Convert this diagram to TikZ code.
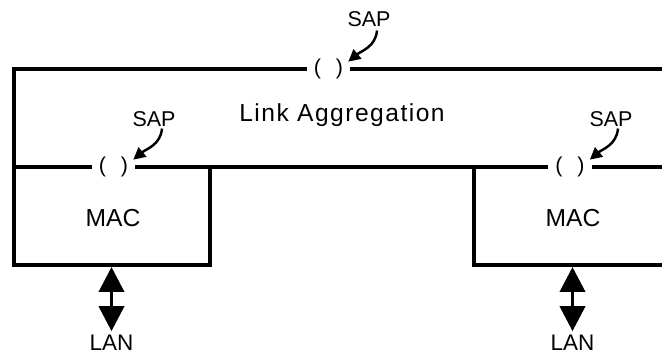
\documentclass[tikz,border=0pt]{standalone}
\usepackage{fontspec}
\setmainfont{Liberation Sans}
\usetikzlibrary{arrows.meta}

\begin{document}
\begin{tikzpicture}[x=0.02cm, y=-0.02cm,
  lbl/.style={font=\fontsize{12.2pt}{14pt}\selectfont, inner sep=0pt, anchor=base},
  lanlbl/.style={font=\fontsize{12.8pt}{15pt}\selectfont, inner sep=0pt, anchor=base},
  big/.style={font=\fontsize{14pt}{16pt}\selectfont, inner sep=0pt, anchor=base},
  sap/.style={font=\fontsize{12.2pt}{14pt}\selectfont, inner sep=0pt, minimum width=0.86cm},
  wire/.style={line width=2.2pt},
  ptr/.style={-{Triangle[length=0.24cm,width=0.24cm]}, line width=1.4pt},
  lan/.style={{Triangle[length=0.5cm,width=0.5cm]}-{Triangle[length=0.5cm,width=0.5cm]}, line width=2.2pt}
]
\useasboundingbox (0,0) rectangle (662,354);

% service access points on the lines
\node[sap] (pTop) at (328.5,69) {(\hspace{0.7em})};
\node[sap] (pL) at (113.5,167) {(\hspace{0.7em})};
\node[sap] (pR) at (570,167) {(\hspace{0.7em})};

% aggregation box and the two MAC boxes
\draw[wire] (662,69) -- (pTop.east);
\draw[wire] (pTop.west) -- (14,69) -- (14,265) -- (210,265) -- (210,167);
\draw[wire] (14,167) -- (pL.west);
\draw[wire] (pL.east) -- (pR.west);
\draw[wire] (pR.east) -- (662,167);
\draw[wire] (474,167) -- (474,265) -- (662,265);

\node[big] (agg) at (342,122) {\addfontfeatures{LetterSpace=6}Link Aggregation};
\node[big] (macL) at (113,227) {MAC};
\node[big] (macR) at (573,227) {MAC};

% SAP labels
\node[lbl] (sapTop) at (369,27) {SAP};
\node[lbl] (sapL) at (154,127) {SAP};
\node[lbl] (sapR) at (611,127) {SAP};
\draw[ptr] ([shift={(8,3)}]sapTop.south) to[out=-95, in=40] ([shift={(-2,3)}]pTop.north east);
\draw[ptr] ([shift={(8,1)}]sapL.south) to[out=-95, in=40] ([shift={(-2,3)}]pL.north east);
\draw[ptr] ([shift={(7,1)}]sapR.south) to[out=-95, in=40] ([shift={(-2,3)}]pR.north east);

% LAN attachments
\coordinate (busL) at (111.5,267);
\coordinate (busR) at (572.5,267);
\node[lanlbl] (lanL) at (111.5,350) {LAN};
\node[lanlbl] (lanR) at (572.5,350) {LAN};
\draw[lan] (busL) -- ([yshift=0.06cm]lanL.north);
\draw[lan] (busR) -- ([yshift=0.06cm]lanR.north);
\end{tikzpicture}
\end{document}
